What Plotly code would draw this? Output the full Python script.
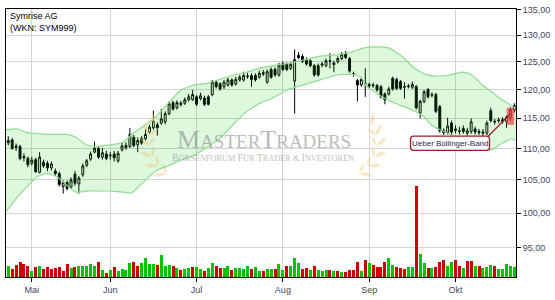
import math
import plotly.graph_objects as go

# ---------------- data ----------------
day_idx = list(range(130))
month_labels = ["Mai", "Jun", "Jul", "Aug", "Sep", "Okt"]
month_start_idx = [6, 26, 48, 70, 92, 114]
price_ticks = [95, 100, 105, 110, 115, 120, 125, 130, 135]
price_tick_text = ["95,00", "100,00", "105,00", "110,00", "115,00", "120,00", "125,00", "130,00", "135,00"]

open_ = [110.9, 111.4, 110.4, 110.3, 108.7, 108.4, 107.6, 108.2, 106.2, 107.8,
         107.6, 106.9, 106.4, 106.0, 104.0, 104.6, 103.9, 105.9, 104.4, 105.8,
         107.3, 108.3, 109.4, 110.0, 108.6, 109.1, 108.8, 109.1, 108.0, 109.8,
         110.1, 110.3, 111.8, 110.6, 111.7, 111.6, 112.7, 113.4, 113.9, 114.2,
         114.4, 115.8, 117.7, 116.8, 117.6, 117.6, 118.2, 118.2, 118.7, 118.4,
         118.5, 118.7, 119.1, 121.3, 121.0, 120.5, 120.8, 121.7, 121.0, 121.7,
         121.7, 122.3, 122.5, 122.5, 122.2, 123.0, 121.3, 123.6, 123.6, 122.6,
         124.7, 124.6, 123.8, 121.5, 126.2, 126.0, 125.4, 125.2, 124.3, 124.3,
         124.4, 124.3, 125.2, 124.8, 125.0, 125.6, 126.6, 125.6, 122.7, 121.6,
         120.8, 121.1, 120.9, 120.7, 120.7, 120.5, 119.2, 119.2, 122.0, 121.8,
         121.4, 120.4, 120.5, 120.4, 120.5, 115.9, 117.9, 120.0, 119.0, 119.1,
         117.0, 112.9, 112.6, 114.2, 113.2, 112.8, 113.3, 112.5, 112.8, 113.2,
         112.8, 112.5, 112.5, 116.3, 114.5, 114.6, 114.8, 114.5, 115.0, 116.4]
high = [112.0, 111.7, 110.8, 110.6, 109.2, 108.7, 108.6, 108.5, 109.4, 108.2,
        108.0, 107.9, 106.8, 106.3, 104.9, 104.9, 105.4, 106.4, 105.6, 107.6,
        108.3, 109.5, 111.1, 110.3, 110.1, 109.6, 109.4, 109.6, 109.6, 110.9,
        111.0, 113.4, 112.2, 111.8, 112.0, 113.2, 113.9, 116.3, 114.3, 116.6,
        116.2, 117.9, 118.0, 118.1, 118.0, 118.6, 119.2, 119.9, 119.0, 119.4,
        118.9, 119.0, 121.7, 121.6, 121.3, 121.7, 122.1, 122.0, 122.3, 122.6,
        123.2, 123.0, 122.9, 122.9, 123.4, 123.5, 123.6, 124.0, 124.0, 124.8,
        125.1, 124.9, 125.0, 127.3, 126.8, 126.4, 125.8, 125.5, 124.6, 124.7,
        125.0, 125.6, 126.6, 125.2, 126.0, 126.8, 127.0, 125.9, 123.2, 121.9,
        122.1, 123.8, 121.2, 121.2, 121.0, 120.8, 119.5, 120.5, 122.3, 122.1,
        121.7, 121.3, 121.0, 121.4, 120.8, 118.2, 119.9, 120.3, 119.5, 119.4,
        117.3, 113.3, 115.1, 114.6, 113.8, 113.6, 113.8, 113.4, 115.0, 113.6,
        113.2, 113.2, 114.6, 116.8, 114.9, 115.1, 115.2, 115.5, 116.9, 117.6]
low = [110.5, 109.8, 109.6, 108.1, 107.9, 107.0, 107.3, 106.1, 106.0, 106.9,
       106.4, 106.5, 105.6, 104.0, 102.9, 103.4, 103.6, 104.1, 102.9, 105.5,
       107.0, 108.0, 109.2, 108.3, 108.2, 108.1, 108.2, 107.9, 107.7, 109.5,
       109.8, 110.1, 110.2, 109.4, 110.6, 111.3, 112.4, 113.1, 112.1, 113.9,
       114.0, 115.5, 116.3, 116.5, 117.0, 117.3, 117.9, 118.0, 117.1, 118.1,
       117.1, 117.2, 118.8, 120.2, 119.8, 120.1, 120.5, 120.5, 120.7, 121.4,
       121.4, 121.9, 120.5, 121.4, 121.9, 122.4, 121.0, 121.9, 122.3, 122.3,
       123.3, 123.3, 123.5, 115.8, 125.5, 124.8, 124.3, 124.0, 122.3, 122.3,
       124.0, 124.0, 123.8, 123.1, 124.7, 125.3, 125.5, 123.0, 122.3, 117.9,
       120.5, 118.7, 120.2, 120.3, 119.6, 118.4, 117.4, 118.9, 119.8, 119.9,
       119.9, 118.4, 120.2, 120.1, 116.5, 115.0, 117.6, 118.4, 118.6, 115.9,
       112.6, 112.2, 112.3, 112.3, 112.5, 112.3, 112.4, 112.1, 112.4, 112.3,
       112.2, 112.0, 112.2, 114.3, 113.9, 114.2, 114.1, 113.4, 114.6, 116.0]
close = [111.3, 110.0, 110.2, 108.4, 108.5, 107.4, 108.1, 106.3, 108.6, 107.2,
         106.9, 107.5, 106.0, 104.3, 104.6, 103.7, 105.0, 104.5, 105.3, 107.2,
         108.0, 109.1, 110.0, 108.6, 109.3, 108.4, 108.9, 108.5, 109.2, 110.4,
         110.5, 112.3, 110.5, 111.3, 110.9, 112.3, 113.5, 114.5, 113.4, 114.9,
         115.8, 117.5, 116.6, 117.7, 117.4, 118.2, 118.7, 119.1, 117.4, 118.9,
         117.4, 117.4, 121.3, 120.5, 120.1, 121.3, 121.7, 120.8, 121.8, 122.2,
         122.5, 122.4, 121.8, 121.7, 122.9, 122.8, 123.2, 122.2, 122.6, 124.4,
         123.6, 123.6, 124.5, 125.4, 125.8, 125.1, 124.6, 124.3, 122.6, 122.6,
         124.6, 125.2, 125.1, 124.5, 125.6, 126.4, 125.8, 123.3, 122.8, 120.8,
         121.8, 121.0, 120.6, 120.8, 119.9, 118.7, 118.2, 120.1, 120.1, 120.2,
         120.2, 120.5, 120.6, 120.9, 116.8, 117.9, 119.6, 118.7, 119.1, 116.2,
         112.9, 112.6, 113.7, 112.7, 113.0, 112.9, 112.8, 112.9, 114.4, 112.7,
         112.6, 112.7, 114.2, 114.6, 114.4, 114.7, 114.5, 115.2, 116.5, 117.2]

# volume in thousand shares, and day direction (1 = up / green, 0 = down / red)
volume = [352, 256, 384, 480, 416, 352, 192, 320, 352, 256,
          320, 256, 288, 320, 192, 416, 288, 320, 352, 352,
          352, 416, 352, 480, 224, 128, 224, 320, 192, 256,
          224, 448, 480, 352, 448, 608, 416, 416, 384, 736,
          352, 384, 352, 288, 224, 256, 288, 320, 320, 256,
          192, 288, 448, 352, 288, 288, 352, 224, 288, 288,
          256, 352, 256, 320, 192, 192, 256, 256, 256, 416,
          224, 352, 352, 608, 448, 256, 288, 224, 352, 224,
          192, 224, 224, 192, 192, 160, 160, 224, 224, 480,
          192, 544, 448, 384, 320, 320, 480, 640, 384, 320,
          288, 256, 320, 320, 2976, 768, 448, 288, 288, 320,
          480, 544, 352, 480, 544, 352, 288, 512, 512, 352,
          352, 288, 320, 384, 352, 256, 256, 416, 352, 320]
volume_up = [1, 0, 0, 0, 0, 0, 1, 0, 1, 0,
             0, 0, 0, 0, 0, 0, 1, 0, 1, 1,
             1, 1, 1, 0, 1, 0, 1, 0, 1, 1,
             1, 1, 0, 0, 1, 1, 1, 1, 0, 1,
             1, 1, 0, 1, 0, 1, 1, 0, 1, 1,
             0, 1, 1, 0, 0, 1, 1, 0, 1, 1,
             1, 1, 0, 1, 1, 0, 1, 1, 0, 1,
             1, 0, 1, 1, 1, 0, 0, 1, 0, 1,
             1, 1, 0, 1, 0, 1, 0, 0, 0, 0,
             1, 0, 1, 0, 0, 0, 0, 1, 1, 0,
             0, 0, 1, 1, 0, 1, 1, 0, 1, 0,
             0, 0, 1, 1, 0, 0, 1, 0, 0, 1,
             0, 1, 1, 1, 0, 1, 1, 1, 1, 1]

# Bollinger bands (read at sample positions)
band_up_idx = [-0.6, 2.4, 4.9, 8.2, 11.4, 14.9, 17.4, 19.9, 22.4, 24.9,
               28.2, 29.9, 31.4, 33.9, 37.4, 40.7, 43.9, 47.4, 50.7, 53.9,
               57.4, 60.7, 63.9, 67.4, 71.4, 75.7, 79.9, 83.9, 87.4, 90.7,
               93.9, 96.9, 100.7, 103.2, 106.4, 108.9, 112.4, 115.7, 118.2, 120.7,
               123.2, 125.2, 127.5, 129.4]
band_up = [113.1, 113.2, 112.6, 112.4, 112.3, 112.3, 111.8, 110.6, 110.3, 110.5,
           110.8, 111.3, 112.3, 113.4, 115.1, 117.5, 119.8, 120.8, 121.1, 121.8,
           122.6, 123.1, 123.8, 124.3, 124.7, 125.4, 126.1, 126.3, 126.8, 127.6,
           127.8, 127.6, 125.8, 124.0, 122.7, 122.4, 122.6, 123.1, 122.6, 120.9,
           119.6, 118.5, 117.5, 116.8]
band_lo_idx = [-0.6, 2.4, 4.9, 7.4, 9.9, 12.4, 14.9, 17.4, 19.9, 23.2,
               26.4, 29.9, 31.4, 35.7, 38.2, 40.7, 43.9, 47.4, 50.7, 53.9,
               57.4, 60.7, 63.9, 67.4, 71.4, 75.7, 79.9, 83.9, 87.4, 89.9,
               91.4, 93.9, 96.4, 98.9, 102.4, 105.7, 108.2, 110.7, 113.2, 115.7,
               118.2, 120.7, 123.2, 125.7, 128.2, 129.4]
band_lo = [100.2, 102.4, 104.0, 105.5, 106.0, 105.5, 104.2, 103.1, 103.3, 103.3,
           103.3, 103.1, 103.0, 105.4, 106.6, 107.2, 108.1, 108.9, 110.2, 111.6,
           114.0, 116.1, 117.5, 118.5, 120.0, 120.9, 121.8, 122.6, 122.7, 122.2,
           120.5, 119.3, 118.3, 117.5, 116.6, 115.4, 113.7, 112.9, 112.1, 110.8,
           110.0, 109.7, 109.8, 110.8, 111.5, 111.3]

signal_idx = 128
signal_low, signal_high = 113.9, 116.8
signal_text = "Ueber Bollinger-Band"
title_lines = ["Symrise AG", "(WKN: SYM999)"]

# ---------------- figure ----------------
W, H = 555, 300
ML, MR, MT, MB = 5, 30, 5, 20
PW, PH = W - ML - MR, H - MT - MB

def px2paper(x, y):
    return (x - ML) / PW, (H - MB - y) / PH

def P(x, y):
    a, b = px2paper(x, y)
    return f"{a:.5f},{b:.5f}"

label_col = "#3c4660"
fig = go.Figure()

# band fill
fig.add_trace(go.Scatter(x=band_up_idx + band_lo_idx[::-1], y=band_up + band_lo[::-1],
                         mode="lines", line=dict(width=0, shape="spline", smoothing=0.6),
                         fill="toself", fillcolor="rgba(0,200,0,0.13)",
                         hoverinfo="skip", showlegend=False))
for bx, by in ((band_up_idx, band_up), (band_lo_idx, band_lo)):
    fig.add_trace(go.Scatter(x=bx, y=by, mode="lines",
                             line=dict(color="#8fdc8f", width=1.2, shape="spline", smoothing=0.6),
                             hoverinfo="skip", showlegend=False))

# volume
fig.add_trace(go.Bar(x=day_idx, y=volume, yaxis="y2", width=0.75,
                     marker=dict(color=["#00c400" if u else "#cc0000" for u in volume_up],
                                 line=dict(width=0)),
                     showlegend=False))

# candles
fig.add_trace(go.Candlestick(x=day_idx, open=open_, high=high, low=low, close=close,
                             increasing=dict(line=dict(color="black", width=1), fillcolor="white"),
                             decreasing=dict(line=dict(color="black", width=1), fillcolor="black"),
                             whiskerwidth=0, showlegend=False))

shapes = []

# watermark laurel wreaths (decoration, pixel-positioned)
def leaf(x0, y0, ang, length=14, width=4.0):
    dx, dy = math.cos(ang), math.sin(ang)
    x1, y1 = x0 + dx * length, y0 + dy * length
    mx, my = (x0 + x1) / 2, (y0 + y1) / 2
    nx, ny = -dy * width, dx * width
    return (f"M {P(x0, y0)} Q {P(mx + nx, my + ny)} {P(x1, y1)} "
            f"Q {P(mx - nx, my - ny)} {P(x0, y0)} Z")

leaf_col = "rgba(240,195,120,0.42)"
for side in (-1, 1):
    cxw, cyw, R = 267 + side * 82, 143, 34
    for k in range(6):
        th = math.radians(118 + k * 19)
        ox, oy = math.cos(th), math.sin(th)
        tx_, ty_ = -math.sin(th), math.cos(th)
        if ty_ > 0:
            tx_, ty_ = -tx_, -ty_
        if side > 0:
            ox, tx_ = -ox, -tx_
        sx, sy = cxw + R * ox, cyw + R * oy
        a_out = math.atan2(oy + ty_ * 1.1, ox + tx_ * 1.1)
        a_in = math.atan2(-oy * 0.7 + ty_ * 1.1, -ox * 0.7 + tx_ * 1.1)
        shapes.append(dict(type="path", xref="paper", yref="paper", path=leaf(sx, sy, a_out),
                           fillcolor=leaf_col, line=dict(width=0), layer="above"))
        if k < 5:
            shapes.append(dict(type="path", xref="paper", yref="paper",
                               path=leaf(sx, sy, a_in, length=11, width=3.2),
                               fillcolor=leaf_col, line=dict(width=0), layer="above"))

# highlight of the signal candle
shapes.append(dict(type="rect", xref="x", yref="y", x0=signal_idx - 0.95, x1=signal_idx + 0.95,
                   y0=signal_low, y1=signal_high, fillcolor="rgba(235,70,70,0.7)",
                   line=dict(width=0), layer="above"))
# rounded callout box
bx0, by0, bx1, by1, r = 417.5, 135.5, 498.0, 150.0, 3
path = (f"M {P(bx0 + r, by0)} L {P(bx1 - r, by0)} Q {P(bx1, by0)} {P(bx1, by0 + r)} "
        f"L {P(bx1, by1 - r)} Q {P(bx1, by1)} {P(bx1 - r, by1)} L {P(bx0 + r, by1)} "
        f"Q {P(bx0, by1)} {P(bx0, by1 - r)} L {P(bx0, by0 + r)} Q {P(bx0, by0)} {P(bx0 + r, by0)} Z")
shapes.append(dict(type="path", xref="paper", yref="paper", path=path,
                   fillcolor="white", line=dict(color="#a8182a", width=1.3), layer="above"))
# connector
shapes.append(dict(type="line", xref="x", yref="y", x0=122.35, y0=112.0,
                   x1=signal_idx, y1=115.8, line=dict(color="#a8182a", width=1.3), layer="above"))

annotations = []
cx, cy = px2paper((bx0 + bx1) / 2, (by0 + by1) / 2)
annotations.append(dict(xref="paper", yref="paper", x=cx, y=cy, text=signal_text, showarrow=False,
                        font=dict(family="Liberation Sans, Arial", size=8, color="#1e2a55"),
                        xanchor="center", yanchor="middle"))
tx, ty = px2paper(7, 5)
annotations.append(dict(xref="paper", yref="paper", x=tx, y=ty, text="<br>".join(title_lines),
                        showarrow=False, align="left", xanchor="left", yanchor="top",
                        font=dict(family="Liberation Sans, Arial", size=9, color="black")))
# watermark text
wx, wy = px2paper(268, 139)
annotations.append(dict(xref="paper", yref="paper", x=wx, y=wy,
                        text=("<span style='font-size:26px'>M</span>ASTER"
                              "<span style='font-size:26px'>T</span>RADERS"),
                        showarrow=False, xanchor="center", yanchor="middle",
                        font=dict(family="Liberation Serif, DejaVu Serif, serif", size=19,
                                  color="rgba(140,140,140,0.6)")))
wx2, wy2 = px2paper(267, 157)
annotations.append(dict(xref="paper", yref="paper", x=wx2, y=wy2,
                        text=("<span style='font-size:10px'>B</span>ÖRSENFORUM "
                              "<span style='font-size:10px'>F</span>ÜR "
                              "<span style='font-size:10px'>T</span>RADER &amp; "
                              "<span style='font-size:10px'>I</span>NVESTOREN"),
                        showarrow=False, xanchor="center", yanchor="middle",
                        font=dict(family="Liberation Serif, DejaVu Serif, serif", size=8.3,
                                  color="rgba(140,140,140,0.6)")))

fig.update_layout(
    width=W, height=H, margin=dict(l=ML, r=MR, t=MT, b=MB),
    paper_bgcolor="white", plot_bgcolor="white", showlegend=False,
    shapes=shapes, annotations=annotations, bargap=0,
    xaxis=dict(range=[-0.575, 129.425], tickvals=month_start_idx, ticktext=month_labels,
               showgrid=True, gridcolor="#d4d4d4", gridwidth=1, zeroline=False,
               showline=True, linecolor="black", linewidth=1, mirror=True,
               ticks="outside", ticklen=4, tickcolor="black",
               tickfont=dict(family="Liberation Sans, Arial", size=9, color=label_col),
               rangeslider=dict(visible=False), fixedrange=True),
    yaxis=dict(type="log", range=[1.95900, 2.13077], side="right",
               tickvals=price_ticks, ticktext=price_tick_text,
               showgrid=True, gridcolor="#d4d4d4", gridwidth=1, zeroline=False,
               showline=True, linecolor="black", linewidth=1, mirror=True,
               ticks="outside", ticklen=4, tickcolor="black",
               tickfont=dict(family="Liberation Sans, Arial", size=9, color=label_col)),
    yaxis2=dict(overlaying="y", range=[0, 8800], visible=False, fixedrange=True),
)

fig.write_html("out.html")
